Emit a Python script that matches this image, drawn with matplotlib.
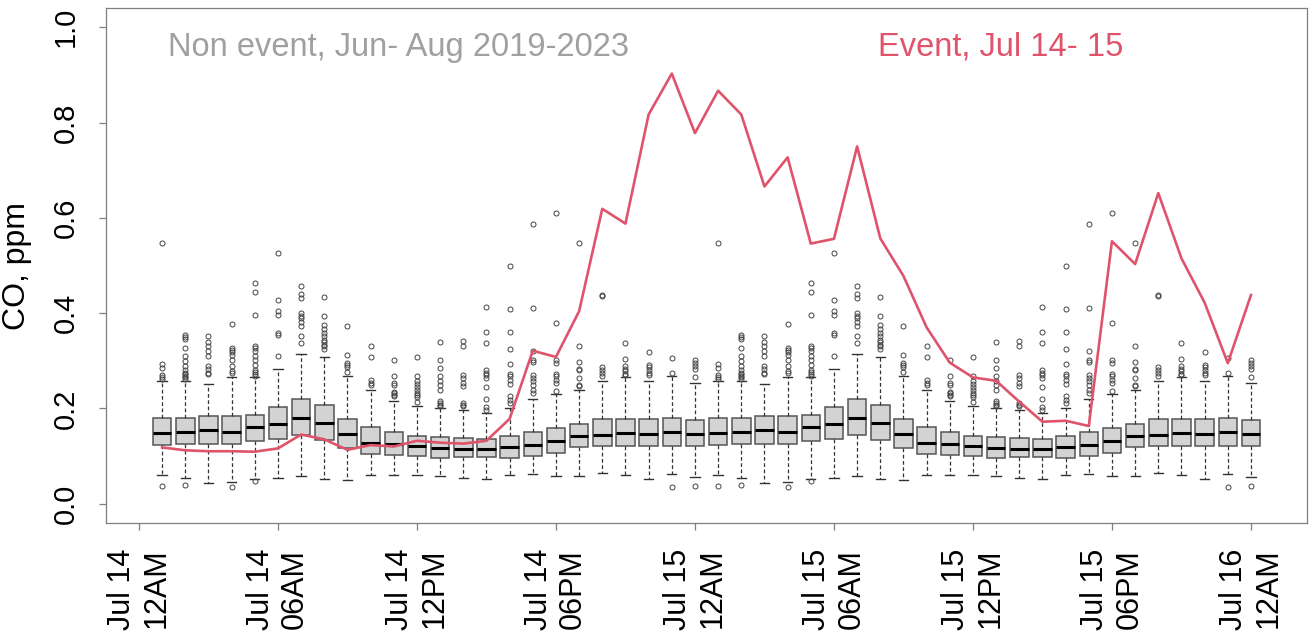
import matplotlib
matplotlib.use('Agg')
import matplotlib.pyplot as plt
import numpy as np

plt.rcParams['font.family'] = ['Liberation Sans', 'DejaVu Sans']

# hourly climatology (non event, Jun-Aug 2019-2023), hour 1 .. hour 24 (midnight)
med = [0.149, 0.150, 0.154, 0.151, 0.160, 0.168, 0.180, 0.169, 0.147, 0.128, 0.125, 0.120,
       0.116, 0.115, 0.115, 0.118, 0.123, 0.132, 0.141, 0.145, 0.149, 0.146, 0.150, 0.146]
q1 = [0.123, 0.125, 0.126, 0.125, 0.132, 0.135, 0.144, 0.133, 0.116, 0.105, 0.103, 0.099,
      0.095, 0.098, 0.098, 0.096, 0.101, 0.107, 0.118, 0.121, 0.120, 0.120, 0.122, 0.122]
q3 = [0.179, 0.180, 0.185, 0.184, 0.187, 0.202, 0.220, 0.208, 0.178, 0.160, 0.150, 0.142,
      0.139, 0.138, 0.136, 0.141, 0.151, 0.158, 0.167, 0.177, 0.178, 0.178, 0.180, 0.176]
whishi = [0.258, 0.258, 0.252, 0.265, 0.265, 0.282, 0.315, 0.308, 0.267, 0.239, 0.216, 0.206,
          0.200, 0.196, 0.191, 0.201, 0.220, 0.230, 0.239, 0.258, 0.265, 0.258, 0.267, 0.253]
whislo = [0.061, 0.054, 0.044, 0.045, 0.052, 0.054, 0.057, 0.051, 0.050, 0.061, 0.060, 0.060,
          0.058, 0.054, 0.052, 0.060, 0.063, 0.058, 0.057, 0.065, 0.060, 0.051, 0.063, 0.056]
fliers = [
    [0.548, 0.293, 0.284, 0.270, 0.265, 0.262, 0.036],
    [0.354, 0.349, 0.345, 0.327, 0.309, 0.299, 0.290, 0.281, 0.275, 0.272, 0.269, 0.265, 0.262, 0.040],
    [0.353, 0.339, 0.331, 0.320, 0.309, 0.288, 0.282, 0.274, 0.272],
    [0.377, 0.327, 0.322, 0.318, 0.313, 0.301, 0.289, 0.278, 0.275, 0.035],
    [0.464, 0.445, 0.397, 0.332, 0.327, 0.320, 0.309, 0.301, 0.292, 0.281, 0.276, 0.272, 0.269, 0.047],
    [0.526, 0.427, 0.405, 0.396, 0.358, 0.355, 0.311],
    [0.457, 0.441, 0.431, 0.401, 0.395, 0.389, 0.381, 0.372, 0.353, 0.337],
    [0.433, 0.393, 0.376, 0.367, 0.359, 0.351, 0.344, 0.339, 0.334, 0.330, 0.324],
    [0.372, 0.313, 0.296, 0.291, 0.287, 0.277],
    [0.330, 0.308, 0.260, 0.254, 0.249],
    [0.301, 0.267, 0.253, 0.249, 0.235, 0.232, 0.228, 0.225],
    [0.308, 0.267, 0.258, 0.251, 0.244, 0.239, 0.233, 0.228, 0.223, 0.214],
    [0.339, 0.302, 0.284, 0.267, 0.258, 0.249, 0.239, 0.216, 0.212, 0.208, 0.205],
    [0.342, 0.330, 0.270, 0.263, 0.254, 0.246, 0.212, 0.208, 0.205],
    [0.413, 0.360, 0.337, 0.281, 0.275, 0.270, 0.263, 0.244, 0.220, 0.203, 0.197],
    [0.500, 0.409, 0.360, 0.325, 0.294, 0.272, 0.267, 0.260, 0.251, 0.225, 0.218, 0.211],
    [0.587, 0.411, 0.320, 0.301, 0.297, 0.270, 0.263, 0.258, 0.249, 0.239, 0.232],
    [0.611, 0.379, 0.302, 0.296, 0.272, 0.267, 0.260, 0.253, 0.237],
    [0.548, 0.330, 0.297, 0.282, 0.280, 0.263, 0.249, 0.246],
    [0.438, 0.437, 0.287, 0.280, 0.275, 0.267],
    [0.338, 0.303, 0.289, 0.283, 0.278, 0.273, 0.270],
    [0.319, 0.291, 0.287, 0.281, 0.275, 0.270],
    [0.305, 0.275, 0.035],
    [0.301, 0.296, 0.289, 0.283, 0.265, 0.038],
]

# event, Jul 14 01:00 .. Jul 16 00:00
event = [0.118, 0.112, 0.110, 0.110, 0.109, 0.116, 0.145, 0.135, 0.113, 0.123, 0.120, 0.132,
         0.128, 0.126, 0.132, 0.178, 0.321, 0.308, 0.404, 0.619, 0.588, 0.817, 0.903, 0.778,
         0.867, 0.817, 0.666, 0.727, 0.546, 0.556, 0.750, 0.557, 0.478, 0.370, 0.296, 0.265,
         0.258, 0.214, 0.172, 0.174, 0.163, 0.551, 0.503, 0.652, 0.515, 0.422, 0.295, 0.438]

tick_labels = ['Jul 14\n12AM', 'Jul 14\n06AM', 'Jul 14\n12PM', 'Jul 14\n06PM',
               'Jul 15\n12AM', 'Jul 15\n06AM', 'Jul 15\n12PM', 'Jul 15\n06PM',
               'Jul 16\n12AM']

hours = np.arange(1, len(event) + 1)
stats = []
for h in hours:
    k = (h - 1) % 24
    stats.append(dict(med=med[k], q1=q1[k], q3=q3[k], whislo=whislo[k],
                      whishi=whishi[k], fliers=fliers[k]))

fig = plt.figure(figsize=(13.14, 6.4), dpi=100)
ax = fig.add_axes([0.0807, 0.1833, 0.914, 0.8037])

ax.bxp(stats, positions=hours, widths=0.8, capwidths=0.4, patch_artist=True,
       boxprops=dict(facecolor='#D3D3D3', edgecolor='#555555', linewidth=1.1),
       medianprops=dict(color='black', linewidth=2.2),
       whiskerprops=dict(color='#333333', linestyle=(0, (3, 2)), linewidth=0.9),
       capprops=dict(color='#333333', linewidth=1.0),
       flierprops=dict(marker='o', markersize=3.6, markerfacecolor='none',
                       markeredgecolor='#444444', markeredgewidth=0.7))

ax.plot(hours, event, color='#DF536B', lw=1.9, zorder=5)

ax.text(11.2, 0.958, 'Non event, Jun- Aug 2019-2023', color='#A0A0A0',
        fontsize=23.5, ha='center', va='center')
ax.text(37.2, 0.958, 'Event, Jul 14- 15', color='#DF536B',
        fontsize=23.5, ha='center', va='center')

ax.set_xlim(-1.42, 50.42)
ax.set_ylim(-0.04, 1.04)
ax.set_xticks(np.arange(0, 49, 6))
ax.set_xticklabels(tick_labels, rotation=90, multialignment='right', fontsize=22)
ax.set_yticks(np.arange(0, 1.01, 0.2))
ax.set_yticklabels([f'{v:.1f}' for v in np.arange(0, 1.01, 0.2)],
                   rotation=90, va='center', fontsize=21)
ax.set_ylabel('CO, ppm', fontsize=23)
ax.yaxis.set_label_coords(-0.062, 0.5)

for s in ax.spines.values():
    s.set_color('#7F7F7F')
    s.set_linewidth(0.9)
ax.tick_params(length=4.8, width=0.9, color='#7F7F7F', pad=14)

fig.savefig('out.png', dpi=100)
